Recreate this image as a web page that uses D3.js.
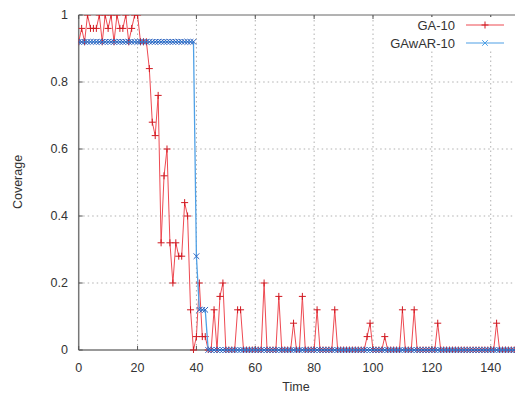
<!DOCTYPE html>
<html><head><meta charset="utf-8">
<script src="https://cdn.jsdelivr.net/npm/d3@7"></script>
<style>body{margin:0;background:#fff}svg{display:block}text{font-family:"Liberation Sans",Arial,sans-serif}</style>
</head><body><div id="c"></div>
<script>
const seriesNames = ["GA-10", "GAwAR-10"];
const xTicks = [0, 20, 40, 60, 80, 100, 120, 140];
const yTicks = [0, 0.2, 0.4, 0.6, 0.8, 1];
const yTickLabels = ["0", "0.2", "0.4", "0.6", "0.8", "1"];
// GA-10 values for t = 0..43
const gaStart = [0.92,0.96,0.92,1,0.96,0.96,0.96,1,0.92,1,0.96,1,0.92,1,0.96,0.96,1,0.92,0.96,1,
  1,0.92,0.92,0.92,0.84,0.68,0.64,0.76,0.32,0.52,0.60,0.32,0.2,0.32,0.28,0.28,0.44,0.40,0.12,0,
  0.04,0.2,0.04,0.04];
// GA-10 nonzero spikes after t = 43 : [t, value]
const gaSpikes = [[46,0.12],[48,0.16],[49,0.2],[54,0.12],[55,0.12],[63,0.2],[68,0.16],[73,0.08],
  [76,0.16],[81,0.12],[87,0.12],[98,0.04],[99,0.08],[104,0.04],[110,0.12],[114,0.12],[122,0.08],[142,0.08]];
// GAwAR-10 values for t = 0..43
const garStart = [0.92,0.92,0.92,0.92,0.92,0.92,0.92,0.92,0.92,0.92,0.92,0.92,0.92,0.92,0.92,0.92,0.92,0.92,0.92,0.92,
  0.92,0.92,0.92,0.92,0.92,0.92,0.92,0.92,0.92,0.92,0.92,0.92,0.92,0.92,0.92,0.92,0.92,0.92,0.92,0.92,
  0.28,0.12,0.12,0.12];
const tMax = 149;

function build(start, spikes){
  const out = [];
  const m = new Map(spikes.map(d=>[d[0],d[1]]));
  for(let t=0;t<=tMax;t++){
    out.push({t, v: t < start.length ? start[t] : (m.get(t) || 0)});
  }
  return out;
}
const ga = build(gaStart, gaSpikes);
const gar = build(garStart, []);

const W=515,H=395;
const x0=78.7, pxPerUnit=2.943;
const x = d3.scaleLinear().domain([0,150]).range([x0, x0+150*pxPerUnit]);
const y = d3.scaleLinear().domain([0,1]).range([350,15]);
const svg = d3.select("#c").append("svg").attr("width",W).attr("height",H);

// grid
const g = svg.append("g");
g.selectAll(".gx").data(xTicks.filter(d=>d>0)).enter().append("line")
  .attr("x1",d=>x(d)).attr("x2",d=>x(d)).attr("y1",y(0)).attr("y2",y(1))
  .attr("stroke","#b0b0b0").attr("stroke-dasharray","1.5,3").attr("stroke-width",1);
g.selectAll(".gy").data(yTicks.filter(d=>d>0&&d<1)).enter().append("line")
  .attr("x1",x(0)).attr("x2",W).attr("y1",d=>y(d)).attr("y2",d=>y(d))
  .attr("stroke","#b0b0b0").attr("stroke-dasharray","1.5,3").attr("stroke-width",1);

// borders
svg.append("line").attr("x1",x(0)).attr("x2",W).attr("y1",y(1)).attr("y2",y(1)).attr("stroke","#666").attr("stroke-width",1);
svg.append("line").attr("x1",x(0)).attr("x2",W).attr("y1",y(0)).attr("y2",y(0)).attr("stroke","#777").attr("stroke-width",1.5);
svg.append("line").attr("x1",x(0)).attr("x2",x(0)).attr("y1",y(0)).attr("y2",y(1)).attr("stroke","#777").attr("stroke-width",1.5);

// ticks (inward)
svg.selectAll(".tx").data(xTicks).enter().append("line")
  .attr("x1",d=>x(d)).attr("x2",d=>x(d)).attr("y1",y(0)).attr("y2",y(0)-4).attr("stroke","#555");
svg.selectAll(".tx2").data(xTicks).enter().append("line")
  .attr("x1",d=>x(d)).attr("x2",d=>x(d)).attr("y1",y(1)).attr("y2",y(1)+4).attr("stroke","#555");
svg.selectAll(".ty").data(yTicks).enter().append("line")
  .attr("x1",x(0)).attr("x2",x(0)+4).attr("y1",d=>y(d)).attr("y2",d=>y(d)).attr("stroke","#555");

// tick labels
svg.selectAll(".lx").data(xTicks).enter().append("text")
  .attr("x",d=>x(d)).attr("y",372).attr("text-anchor","middle")
  .attr("font-size",12.5).attr("fill","#333").text(d=>d);
svg.selectAll(".ly").data(yTicks).enter().append("text")
  .attr("x",68).attr("y",d=>y(d)+4).attr("text-anchor","end")
  .attr("font-size",12.5).attr("fill","#333").text((d,i)=>yTickLabels[i]);

// axis titles
svg.append("text").attr("x",296).attr("y",391).attr("text-anchor","middle").attr("font-size",12.5).attr("fill","#333").text("Time");
svg.append("text").attr("transform","translate(22,182) rotate(-90)").attr("text-anchor","middle").attr("font-size",12.5).attr("fill","#333").text("Coverage");

// clip
svg.append("clipPath").attr("id","clip").append("rect").attr("x",x(0)).attr("y",y(1)).attr("width",W).attr("height",y(0)-y(1)+3);
const plot = svg.append("g").attr("clip-path","url(#clip)");

const line = d3.line().x(d=>x(d.t)).y(d=>y(d.v));
const redC = "#ee4a52", blueC = "#4ea0e6";

plot.append("path").datum(ga).attr("d",line).attr("fill","none").attr("stroke",redC).attr("stroke-width",1);
const s=3.5;
plot.selectAll(".pr").data(ga).enter().append("path")
  .attr("d",d=>`M${x(d.t)-s},${y(d.v)}H${x(d.t)+s}M${x(d.t)},${y(d.v)-s}V${y(d.v)+s}`)
  .attr("stroke","#d01a22").attr("stroke-width",1).attr("fill","none");

plot.append("path").datum(gar).attr("d",line).attr("fill","none").attr("stroke",blueC).attr("stroke-width",1.3);
const b=2.8;
plot.selectAll(".pb").data(gar).enter().append("path")
  .attr("d",d=>`M${x(d.t)-b},${y(d.v)-b}L${x(d.t)+b},${y(d.v)+b}M${x(d.t)-b},${y(d.v)+b}L${x(d.t)+b},${y(d.v)-b}`)
  .attr("stroke","#2a62bf").attr("stroke-width",1).attr("fill","none");

// legend
const lg = svg.append("g");
lg.append("rect").attr("x",395).attr("y",17).attr("width",120).attr("height",34).attr("fill","#fff");
const legendColors=[redC, blueC];
seriesNames.forEach((n,i)=>{
  const ly = 25 + i*18;
  lg.append("text").attr("x",455).attr("y",ly+4.5).attr("text-anchor","end").attr("font-size",13).attr("fill","#333").text(n);
  lg.append("line").attr("x1",466).attr("x2",504).attr("y1",ly).attr("y2",ly).attr("stroke",legendColors[i]).attr("stroke-width",1.2);
  const cx=485;
  if(i===0){
    lg.append("path").attr("d",`M${cx-s},${ly}H${cx+s}M${cx},${ly-s}V${ly+s}`).attr("stroke","#d01a22").attr("fill","none");
  } else {
    lg.append("path").attr("d",`M${cx-b},${ly-b}L${cx+b},${ly+b}M${cx-b},${ly+b}L${cx+b},${ly-b}`).attr("stroke","#4ea0e6").attr("fill","none");
  }
});
</script></body></html>
